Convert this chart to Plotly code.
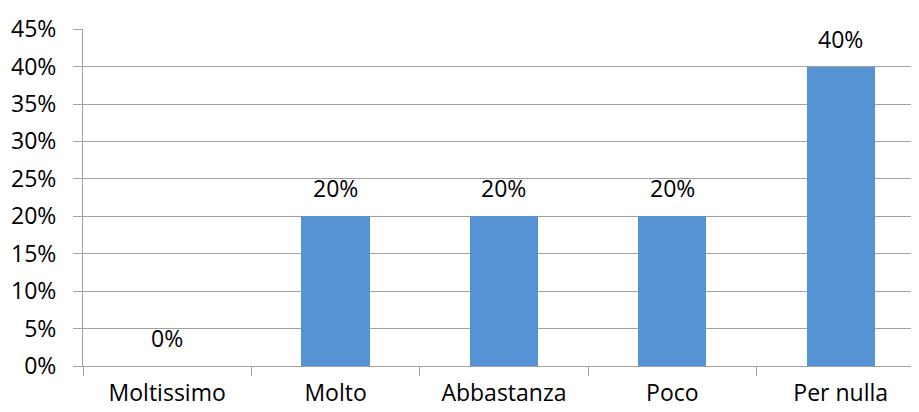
import plotly.graph_objects as go

# --- data ---
categories = ["Moltissimo", "Molto", "Abbastanza", "Poco", "Per nulla"]
shares = [0.0, 0.20, 0.20, 0.20, 0.40]
share_labels = ["0%", "20%", "20%", "20%", "40%"]

font_family = "Open Sans, Lato, sans-serif"
grid_grey = "#a0a0a0"

fig = go.Figure()

fig.add_trace(go.Bar(
    x=categories,
    y=shares,
    width=0.405,
    marker=dict(color="#5593d4", line=dict(width=0)),
    hoverinfo="skip",
))

# value labels sitting above each bar
for cat, val, lab in zip(categories, shares, share_labels):
    fig.add_annotation(
        x=cat, y=val, text=lab, showarrow=False,
        yshift=28, font=dict(size=23, color="#000000", family=font_family),
    )

# the page body has an 8px margin, so the figure is 8px smaller than the window
fig.update_layout(
    width=911,
    height=404,
    margin=dict(l=75, r=0, t=21, b=46),
    plot_bgcolor="white",
    paper_bgcolor="white",
    showlegend=False,
    font=dict(family=font_family, size=23, color="#000000"),
    bargap=0,
)

fig.update_xaxes(
    type="category",
    range=[-0.5, 4.465],
    tickson="boundaries",
    ticks="outside",
    ticklen=9,
    tickcolor=grid_grey,
    showline=True,
    linecolor=grid_grey,
    linewidth=1,
    showgrid=False,
    automargin=False,
    ticklabelstandoff=6,
    tickfont=dict(size=23),
)

fig.update_yaxes(
    range=[0, 0.4502],
    tickvals=[i * 0.05 for i in range(10)],
    tickformat=".0%",
    ticks="outside",
    ticklen=9,
    tickcolor=grid_grey,
    showline=True,
    linecolor=grid_grey,
    linewidth=1,
    showgrid=True,
    gridcolor=grid_grey,
    gridwidth=1,
    zeroline=False,
    automargin=False,
    ticklabelstandoff=12,
    tickfont=dict(size=23),
)

fig.write_html("out.html")
